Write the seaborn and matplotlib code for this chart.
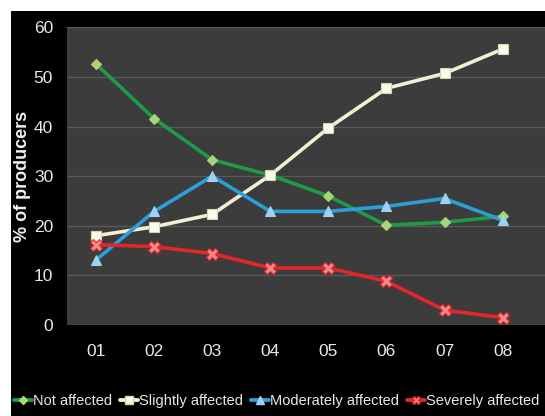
import matplotlib
matplotlib.use("Agg")
import matplotlib.pyplot as plt
import seaborn as sns
import pandas as pd
from matplotlib.patches import Rectangle

years = ["01", "02", "03", "04", "05", "06", "07", "08"]
not_affected = [52.6, 41.6, 33.3, 30.2, 26.0, 20.1, 20.7, 21.9]
slightly_affected = [18.0, 19.8, 22.3, 30.2, 39.7, 47.7, 50.7, 55.6]
moderately_affected = [13.1, 22.9, 30.0, 22.9, 22.9, 23.9, 25.5, 21.1]
severely_affected = [16.2, 15.8, 14.4, 11.5, 11.5, 8.8, 3.0, 1.5]
y_ticks = [0, 10, 20, 30, 40, 50, 60]

series = {
    "Not affected": not_affected,
    "Slightly affected": slightly_affected,
    "Moderately affected": moderately_affected,
    "Severely affected": severely_affected,
}

styles = {
    "Not affected": dict(color="#1f9a45", marker="D", mfc="#a8d47a", mec="#a8d47a", ms=5.5),
    "Slightly affected": dict(color="#f2efd2", marker="s", mfc="#fbfbec", mec="#d8d4b0", ms=7),
    "Moderately affected": dict(color="#2b9fd9", marker="^", mfc="#9fd2f0", mec="#9fd2f0", ms=6.5),
    "Severely affected": dict(color="#e3262a", marker="X", mfc="#f08a8a", mec="#e3262a", ms=8),
}

rows = []
for name, vals in series.items():
    for i, (yr, v) in enumerate(zip(years, vals)):
        rows.append({"year": yr, "idx": i, "value": v, "series": name})
df = pd.DataFrame(rows)

sns.set_style("dark")
plt.rcParams["font.family"] = ["Liberation Sans", "DejaVu Sans"]

fig = plt.figure(figsize=(5.45, 4.16), dpi=100, facecolor="white")
# black backdrop with a thin white margin at top and left
fig.patches.append(Rectangle((11 / 545, 0), 1 - 11 / 545, 1 - 11 / 416,
                             transform=fig.transFigure, facecolor="black",
                             edgecolor="none", zorder=-10))

ax = fig.add_axes([67 / 545, 1 - 325 / 416, 1 - 67 / 545, (325 - 27.3) / 416])
ax.set_facecolor("#3c3c3c")

for name in series:
    st = styles[name]
    sub = df[df["series"] == name]
    sns.lineplot(data=sub, x="idx", y="value", ax=ax, color=st["color"],
                 linewidth=2.6, legend=False, zorder=3)
    ax.plot(sub["idx"], sub["value"], linestyle="none", marker=st["marker"],
            ms=st["ms"], mfc=st["mfc"], mec=st["mec"], mew=0.8, zorder=4,
            label=name)

ax.set_xlim(-0.5, 7.73)
ax.set_ylim(0, 60)
ax.set_yticks(y_ticks)
ax.set_xticks(range(len(years)))
ax.set_xticklabels(years)
ax.grid(axis="y", color="#5a5a5a", linewidth=1)
ax.grid(axis="x", visible=False)
for s in ax.spines.values():
    s.set_visible(False)
ax.tick_params(axis="both", colors="#e8e8e8", labelsize=12.5, length=0)
ax.tick_params(axis="x", pad=14)
ax.tick_params(axis="y", pad=10)
ax.set_xlabel("")
ax.set_ylabel("% of producers", color="#f0f0f0", fontsize=13, fontweight="bold", labelpad=2)

# legend entries with line + marker
handles = []
for name in series:
    st = styles[name]
    h, = ax.plot([], [], color=st["color"], linewidth=2.8, marker=st["marker"],
                 ms=st["ms"] * 0.8, mfc=st["mfc"], mec=st["mec"])
    handles.append(h)
leg = fig.legend(handles, list(series.keys()), loc="center",
                 bbox_to_anchor=(277 / 545, 1 - 401 / 416), ncol=4, frameon=False,
                 handlelength=1.2, handletextpad=0.1, columnspacing=0.55,
                 fontsize=10.5, labelcolor="#e8e8e8")

fig.savefig("out.png", dpi=100, facecolor=fig.get_facecolor())
